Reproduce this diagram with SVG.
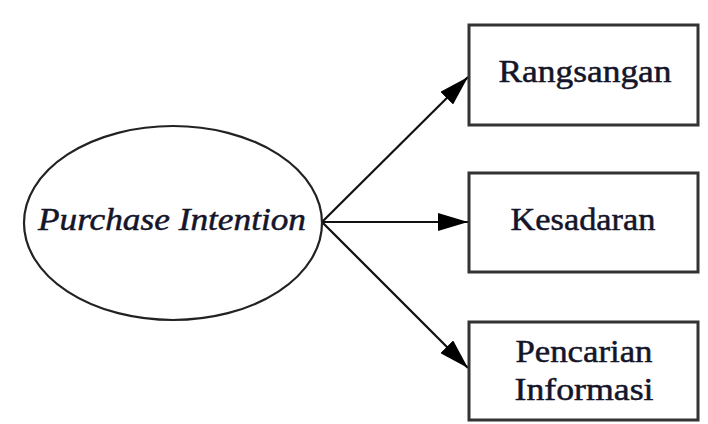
<svg xmlns="http://www.w3.org/2000/svg" width="708" height="424" viewBox="0 0 708 424">
<style>
.box{fill:#fff;stroke:#333;stroke-width:3}
.lbl{font-family:"Liberation Serif","Times New Roman",serif;font-size:31px;fill:#15152a;stroke:#15152a;stroke-width:0.5;text-anchor:middle}
.edge{stroke:#111;stroke-width:2.2;fill:none}
</style>
<defs>
<marker id="ah" viewBox="0 0 30 18" refX="30" refY="9" markerWidth="30" markerHeight="18" markerUnits="userSpaceOnUse" orient="auto">
<path d="M0,0 L30,9 L0,18 Z" fill="#000"/>
</marker>
</defs>
<rect width="708" height="424" fill="#fff"/>
<g id="connectors">
<line class="edge" x1="322" y1="222" x2="468" y2="77" marker-end="url(#ah)"/>
<line class="edge" x1="322" y1="222" x2="468" y2="222" marker-end="url(#ah)"/>
<line class="edge" x1="322" y1="222" x2="468" y2="368" marker-end="url(#ah)"/>
</g>
<g id="purchase-intention">
<ellipse cx="173" cy="223" rx="149" ry="97" fill="#fff" stroke="#222" stroke-width="2.2"/>
<text class="lbl" x="172" y="230" font-style="italic" textLength="268" lengthAdjust="spacingAndGlyphs">Purchase Intention</text>
</g>
<g id="rangsangan">
<rect class="box" x="469" y="25" width="229" height="100"/>
<text class="lbl" x="585" y="82" textLength="173" lengthAdjust="spacingAndGlyphs">Rangsangan</text>
</g>
<g id="kesadaran">
<rect class="box" x="469" y="173" width="229" height="99"/>
<text class="lbl" x="583" y="230" textLength="145" lengthAdjust="spacingAndGlyphs">Kesadaran</text>
</g>
<g id="pencarian-informasi">
<rect class="box" x="469" y="322" width="229" height="98"/>
<text class="lbl" x="584" y="362" textLength="137" lengthAdjust="spacingAndGlyphs">Pencarian</text>
<text class="lbl" x="584" y="400" textLength="139" lengthAdjust="spacingAndGlyphs">Informasi</text>
</g>
</svg>
